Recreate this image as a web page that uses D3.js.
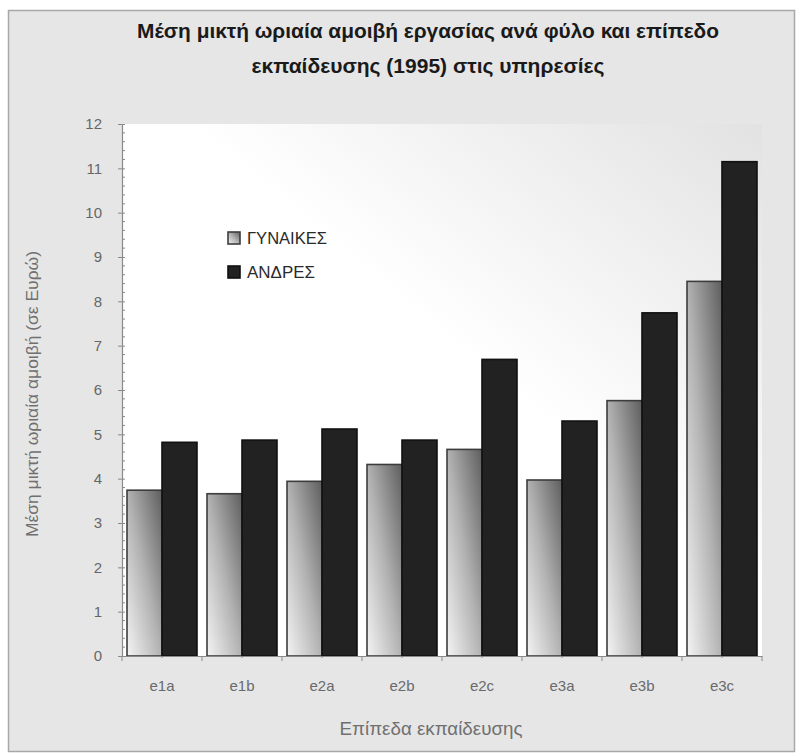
<!DOCTYPE html>
<html>
<head>
<meta charset="utf-8">
<script src="https://cdn.jsdelivr.net/npm/d3@7"></script>
<style>
  html, body { margin: 0; padding: 0; background: #ffffff; }
  svg { display: block; }
  text { font-family: "Liberation Sans", Arial, sans-serif; }
</style>
</head>
<body>
<script>
// Mean gross hourly earnings (Euro), services sector, 1995
const categories = ["e1a", "e1b", "e2a", "e2b", "e2c", "e3a", "e3b", "e3c"];
const seriesNames = ["ΓΥΝΑΙΚΕΣ", "ΑΝΔΡΕΣ"];
const women = [3.74, 3.66, 3.94, 4.32, 4.66, 3.97, 5.76, 8.45];
const men = [4.82, 4.87, 5.12, 4.87, 6.69, 5.30, 7.74, 11.15];
const yTicks = [0, 1, 2, 3, 4, 5, 6, 7, 8, 9, 10, 11, 12];
const titleLines = ["Μέση μικτή ωριαία αμοιβή εργασίας ανά φύλο και επίπεδο",
                    "εκπαίδευσης (1995) στις υπηρεσίες"];
const xTitle = "Επίπεδα εκπαίδευσης";
const yTitle = "Μέση μικτή ωριαία αμοιβή (σε Ευρώ)";

const W = 797, H = 754;
const plot = { left: 122, right: 762, top: 124, bottom: 656 };

const svg = d3.select("body").append("svg").attr("width", W).attr("height", H);
const defs = svg.append("defs");

// plot-area wash: white in the lower left, grey toward the upper right
const bg = defs.append("linearGradient").attr("id", "plotBg")
  .attr("x1", 0).attr("y1", 1).attr("x2", 1).attr("y2", 0);
bg.append("stop").attr("offset", "0.55").attr("stop-color", "#ffffff");
bg.append("stop").attr("offset", "1").attr("stop-color", "#e2e2e2");

// silver fill for the women's bars
const silver = defs.append("linearGradient").attr("id", "silver")
  .attr("x1", 0).attr("y1", 1).attr("x2", 1).attr("y2", 0);
silver.append("stop").attr("offset", "0").attr("stop-color", "#f4f4f4");
silver.append("stop").attr("offset", "0.5").attr("stop-color", "#b2b2b2");
silver.append("stop").attr("offset", "1").attr("stop-color", "#5e5e5e");

// frame
svg.append("rect").attr("x", 8.5).attr("y", 10.5).attr("width", 786).attr("height", 741)
  .attr("fill", "#e6e6e6").attr("stroke", "#a8a8a8").attr("stroke-width", 1.5);

// scales
const x = d3.scaleBand().domain(categories).range([plot.left, plot.right]).padding(0);
const xs = d3.scaleBand().domain(seriesNames).range([0, x.bandwidth()])
  .paddingInner(0).paddingOuter(0.143);
const y = d3.scaleLinear().domain([0, 12]).range([plot.bottom, plot.top]);

svg.append("rect").attr("x", plot.left).attr("y", plot.top)
  .attr("width", plot.right - plot.left).attr("height", plot.bottom - plot.top)
  .attr("fill", "url(#plotBg)");

// title (condensed bold face, fitted to line widths)
const titleWidths = [582, 353];
svg.append("g").selectAll("text").data(titleLines).join("text")
  .attr("x", 428).attr("y", (d, i) => 38 + i * 35)
  .attr("text-anchor", "middle")
  .attr("font-size", 20).attr("font-weight", "bold").attr("fill", "#1a1a1a")
  .attr("textLength", (d, i) => titleWidths[i]).attr("lengthAdjust", "spacingAndGlyphs")
  .text(d => d);

// bars
const rows = categories.map((c, i) => ({ cat: c, vals: [women[i], men[i]] }));
const styles = [
  { fill: "url(#silver)", stroke: "#3c3c3c" },
  { fill: "#222222", stroke: "#111111" }
];
const groups = svg.append("g").selectAll("g").data(rows).join("g")
  .attr("transform", d => `translate(${x(d.cat)},0)`);
groups.selectAll("rect")
  .data(d => d.vals.map((v, k) => ({ v, k, s: seriesNames[k] })))
  .join("rect")
  .attr("x", d => xs(d.s))
  .attr("y", d => y(d.v))
  .attr("width", xs.bandwidth())
  .attr("height", d => y(0) - y(d.v))
  .attr("fill", d => styles[d.k].fill)
  .attr("stroke", d => styles[d.k].stroke)
  .attr("stroke-width", 1.6);

// y axis with major and minor ticks
const yAxis = d3.axisLeft(y).tickValues(yTicks).tickSize(4).tickSizeOuter(0).tickPadding(16)
  .tickFormat(d3.format("d"));
const gy = svg.append("g").attr("transform", `translate(${plot.left},0)`).call(yAxis);
gy.select(".domain").attr("stroke", "#8a8a8a").attr("stroke-width", 1.2);
gy.selectAll(".tick line").attr("stroke", "#8a8a8a").attr("x2", 3).attr("x1", -4);
gy.selectAll(".tick text").attr("fill", "#666666").attr("font-size", 15)
  .style("font-family", "'Liberation Sans', Arial, sans-serif");
const minor = d3.range(0, 12.001, 0.2).filter(v => Math.abs(v - Math.round(v)) > 1e-6);
gy.append("g").selectAll("line").data(minor).join("line")
  .attr("x1", 0).attr("x2", 3)
  .attr("y1", d => y(d)).attr("y2", d => y(d))
  .attr("stroke", "#8a8a8a").attr("stroke-width", 1);

// x axis
const xAxis = d3.axisBottom(x).tickSize(0).tickSizeOuter(0).tickPadding(24);
const gx = svg.append("g").attr("transform", `translate(0,${plot.bottom})`).call(xAxis);
gx.select(".domain").attr("stroke", "#8a8a8a").attr("stroke-width", 1.2);
gx.selectAll(".tick text").attr("fill", "#6a6a6a").attr("font-size", 15)
  .style("font-family", "'Liberation Sans', Arial, sans-serif");
const bounds = categories.map(c => x(c)).concat([plot.right]);
gx.append("g").selectAll("line").data(bounds).join("line")
  .attr("x1", d => d).attr("x2", d => d).attr("y1", 0).attr("y2", 5)
  .attr("stroke", "#8a8a8a").attr("stroke-width", 1);
gx.append("g").selectAll("line").data(categories).join("line")
  .attr("x1", d => x(d) + x.bandwidth() / 2).attr("x2", d => x(d) + x.bandwidth() / 2)
  .attr("y1", 0).attr("y2", 2)
  .attr("stroke", "#8a8a8a").attr("stroke-width", 1);

// axis titles
svg.append("text").attr("x", 431).attr("y", 735).attr("text-anchor", "middle")
  .attr("font-size", 18).attr("fill", "#707070")
  .attr("textLength", 183).attr("lengthAdjust", "spacingAndGlyphs").text(xTitle);
svg.append("text").attr("transform", "translate(38,394) rotate(-90)")
  .attr("text-anchor", "middle").attr("font-size", 16).attr("fill", "#707070")
  .attr("textLength", 286).attr("lengthAdjust", "spacingAndGlyphs").text(yTitle);

// legend
const legend = svg.append("g").attr("transform", "translate(228,232)");
const li = legend.selectAll("g").data(seriesNames).join("g")
  .attr("transform", (d, i) => `translate(0,${i * 34})`);
li.append("rect").attr("width", 12).attr("height", 12)
  .attr("fill", (d, i) => styles[i].fill).attr("stroke", (d, i) => styles[i].stroke)
  .attr("stroke-width", 1.6);
const legendWidths = [80, 68];
li.append("text").attr("x", 19).attr("y", 6).attr("dy", "0.35em")
  .attr("font-size", 16).attr("fill", "#2a2a2a")
  .attr("textLength", (d, i) => legendWidths[i]).attr("lengthAdjust", "spacingAndGlyphs")
  .text(d => d);
</script>
</body>
</html>
